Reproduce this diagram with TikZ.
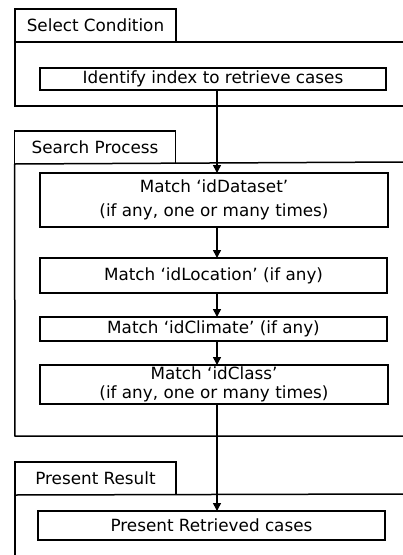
\documentclass[tikz,border=0pt]{standalone}
\usepackage{fontspec}
\setmainfont{DejaVu Sans}
\usetikzlibrary{arrows.meta}
\begin{document}
\begin{tikzpicture}[x=1pt,y=-1pt, line width=1.5pt,
  box/.style={draw, rectangle, inner sep=0pt, outer sep=0pt, align=center,
    font=\fontsize{16.8}{24.5}\selectfont},
  tab/.style={inner sep=0pt, outer sep=0pt, minimum width=161pt, minimum height=33pt,
    font=\fontsize{16.8}{20}\selectfont},
  arr/.style={-{Triangle[length=8pt,width=8pt]}, line width=1.5pt}]
\useasboundingbox[fill=white] (0,0) rectangle (403,555);

% ---- Select Condition panel
\node[tab] (tab1) at (95.5,25.5) {Select Condition};
\draw (tab1.south west) |- (tab1.north east) -- (tab1.south east);
\draw (tab1.south west) -- (403,42);
\draw (tab1.south west) -- (15,106) -- (403,106);
\node[box, minimum width=346pt, minimum height=22pt] (b1) at (213,79)
  {Identify index to retrieve cases};

% ---- Search Process panel
\node[tab] (tab2) at (95,147.5) {Search Process};
\draw (tab2.south west) |- (tab2.north east) -- (tab2.south east);
\draw (tab2.south west) -- (403,162);
\draw (tab2.south west) -- (15,436) -- (403,436);
\node[box, minimum width=348pt, minimum height=54pt] (b2) at (214,200)
  {Match ‘idDataset’\\(if any, one or many times)};
\node[box, minimum width=347pt, minimum height=35pt] (b3) at (213.5,275.5)
  {Match ‘idLocation’ (if any)};
\node[box, minimum width=347pt, minimum height=24pt] (b4) at (213.5,329)
  {Match ‘idClimate’ (if any)};
\node[box, minimum width=348pt, minimum height=39pt,
  font=\fontsize{16.8}{18.5}\selectfont] (b5) at (214,384.5)
  {Match ‘idClass’\\(if any, one or many times)};

% ---- Present Result panel
\node[tab] (tab3) at (95.5,478.5) {Present Result};
\draw (tab3.south west) |- (tab3.north east) -- (tab3.south east);
\draw (tab3.south west) -- (403,494);
\draw (tab3.south west) -- (15,555);
\node[box, minimum width=347pt, minimum height=29pt] (b6) at (211.5,525.5)
  {Present Retrieved cases};

% ---- connectors
\coordinate (ax) at (217,0);
\draw[arr] (b1.south -| ax) -- (b2.north -| ax);
\draw[arr] (b2.south -| ax) -- (b3.north -| ax);
\draw[arr] (b3.south -| ax) -- (b4.north -| ax);
\draw[arr] (b4.south -| ax) -- (b5.north -| ax);
\draw[arr] (b5.south -| ax) -- (b6.north -| ax);
\end{tikzpicture}
\end{document}
